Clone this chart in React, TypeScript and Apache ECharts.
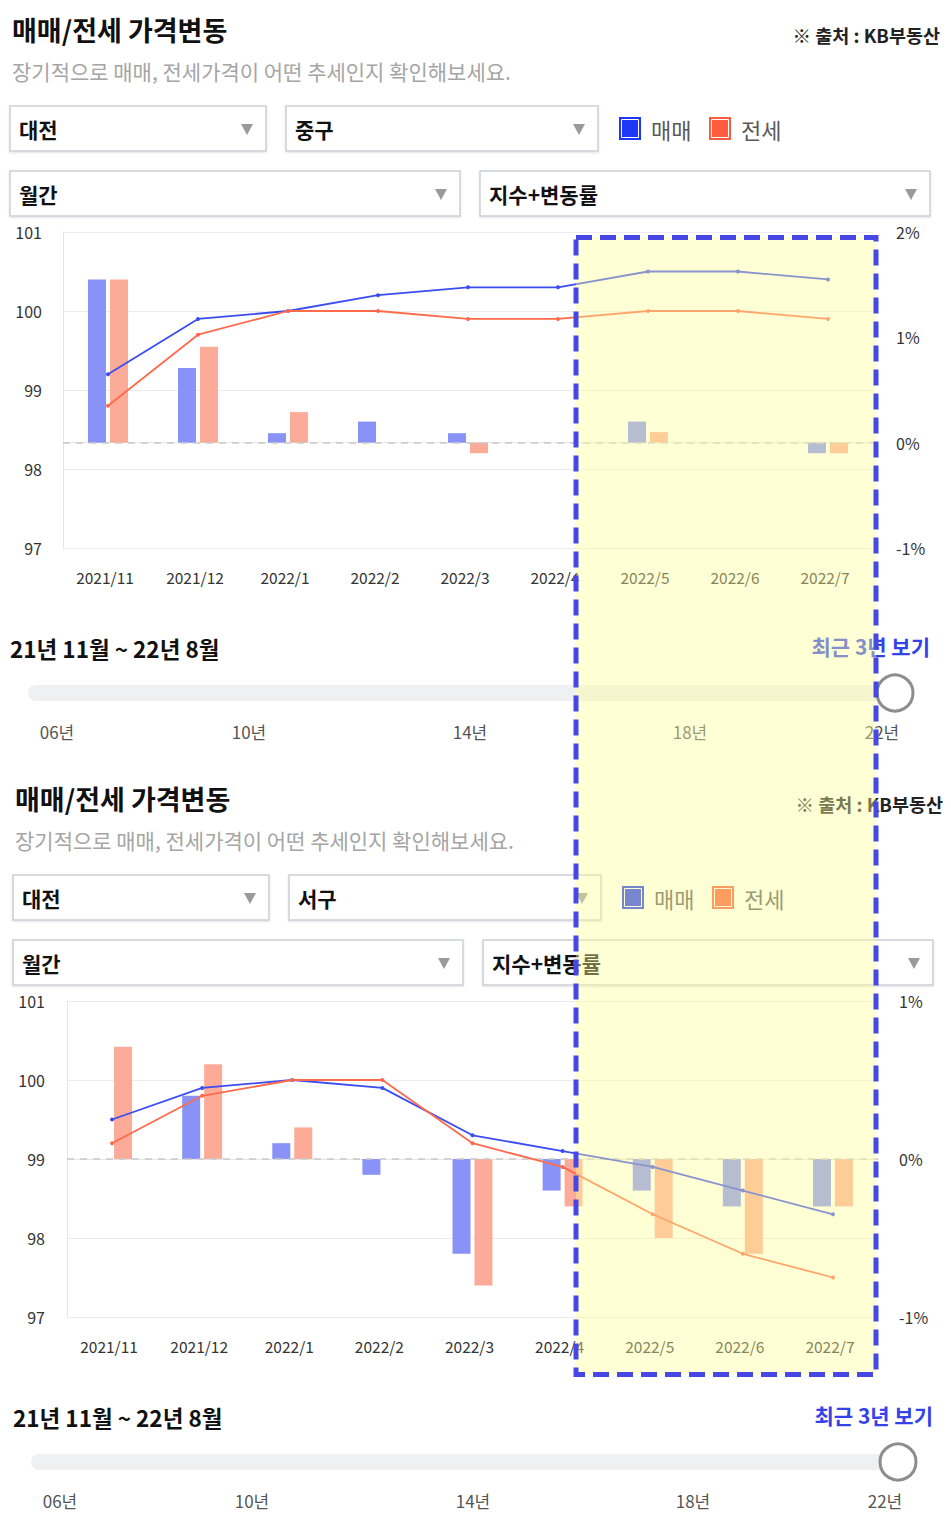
import React, { useEffect, useRef } from "react";
import * as echarts from "echarts";

// ---------- data ----------
const categories = ["2021/11", "2021/12", "2022/1", "2022/2", "2022/3", "2022/4", "2022/5", "2022/6", "2022/7"];

// 대전 중구
const jungSaleIndex = [99.2, 99.9, 100.0, 100.2, 100.3, 100.3, 100.5, 100.5, 100.4];
const jungJeonseIndex = [98.8, 99.7, 100.0, 100.0, 99.9, 99.9, 100.0, 100.0, 99.9];
const jungSaleRate = [1.55, 0.71, 0.09, 0.2, 0.09, 0, 0.2, 0, -0.1];
const jungJeonseRate = [1.55, 0.91, 0.29, 0, -0.1, 0, 0.1, 0, -0.1];

// 대전 서구
const seoSaleIndex = [99.5, 99.9, 100.0, 99.9, 99.3, 99.1, 98.9, 98.6, 98.3];
const seoJeonseIndex = [99.2, 99.8, 100.0, 100.0, 99.2, 98.9, 98.3, 97.8, 97.5];
const seoSaleRate = [0, 0.4, 0.1, -0.1, -0.6, -0.2, -0.2, -0.3, -0.3];
const seoJeonseRate = [0.71, 0.6, 0.2, 0, -0.8, -0.3, -0.5, -0.6, -0.3];

const yearTicks = ["06년", "10년", "14년", "18년", "22년"];
const legendNames = ["매매", "전세"];

// ---------- styles ----------
const F = "'Noto Sans CJK KR', 'Noto Sans', sans-serif";
const SALE_BAR = "#8892f7";
const JEONSE_BAR = "#fcab98";
const SALE_LINE = "#3b4df2";
const JEONSE_LINE = "#ff6a4b";
const SALE_LEGEND = "#1f36f5";
const JEONSE_LEGEND = "#ff5b3d";

const txt = (x: number, y: number, text: string, font: string, fill: string, align = "left") => ({
  type: "text",
  x,
  y,
  style: { text, font, fill, textAlign: align, textVerticalAlign: "middle" },
});

const box = (x: number, y: number, w: number, h: number, label: string) => [
  {
    type: "rect",
    shape: { x, y, width: w, height: h },
    style: { fill: "#fff", stroke: "#cdd0d6", lineWidth: 1.5, shadowBlur: 2, shadowOffsetY: 1, shadowColor: "rgba(0,0,0,0.12)" },
  },
  txt(x + 9, y + 23, label, `bold 21px ${F}`, "#111"),
  {
    type: "polygon",
    shape: { points: [[x + w - 25, y + 18], [x + w - 13, y + 18], [x + w - 19, y + 29]] },
    style: { fill: "#9a9a9a" },
  },
];

const legendIcon = (x: number, y: number, color: string) => [
  { type: "rect", shape: { x, y, width: 22, height: 23 }, style: { fill: color } },
  { type: "rect", shape: { x: x + 2.5, y: y + 2.5, width: 17, height: 18 }, style: { fill: "none", stroke: "#fff", lineWidth: 1 } },
];

function panelGraphics(dx: number, dy: number, district: string) {
  const els: any[] = [];
  els.push(txt(12 + dx, 29 + dy, "매매/전세 가격변동", `bold 27px ${F}`, "#111"));
  els.push(txt(940 + dx, 35 + dy, "※ 출처 : KB부동산", `bold 18.5px ${F}`, "#222", "right"));
  els.push(txt(12 + dx, 71 + dy, "장기적으로 매매, 전세가격이 어떤 추세인지 확인해보세요.", `21px ${F}`, "#a5a5a5"));
  els.push(...box(10 + dx, 106 + dy, 256, 45, "대전"));
  els.push(...box(286 + dx, 106 + dy, 312, 45, district));
  els.push(...legendIcon(619 + dx, 117 + dy, SALE_LEGEND));
  els.push(txt(651 + dx, 129 + dy, legendNames[0], `22px ${F}`, "#5a5a5a"));
  els.push(...legendIcon(709 + dx, 117 + dy, JEONSE_LEGEND));
  els.push(txt(741 + dx, 129 + dy, legendNames[1], `22px ${F}`, "#5a5a5a"));
  els.push(...box(10 + dx, 171 + dy, 450, 45, "월간"));
  els.push(...box(480 + dx, 171 + dy, 450, 45, "지수+변동률"));
  els.push(txt(10 + dx, 648 + dy, "21년 11월 ~ 22년 8월", `bold 22.5px ${F}`, "#111"));
  els.push(txt(930 + dx, 646 + dy, "최근 3년 보기", `bold 21px ${F}`, "#3343e8", "right"));
  els.push({
    type: "rect",
    shape: { x: 28 + dx, y: 685 + dy, width: 867, height: 16, r: 8 },
    style: { fill: "#eef0f2" },
  });
  els.push({
    type: "circle",
    shape: { cx: 895 + dx, cy: 693 + dy, r: 18 },
    style: { fill: "#fff", stroke: "#8d8d8d", lineWidth: 3 },
  });
  const xs = [57, 249, 470, 690, 882];
  yearTicks.forEach((t, i) => els.push(txt(xs[i] + dx, 731 + dy, t, `17px ${F}`, "#555", "center")));
  return els;
}

const zeroLine = {
  silent: true,
  symbol: ["none", "none"],
  label: { show: false },
  lineStyle: { color: "#c9c9c9", type: [7, 6], width: 1.5 },
  data: [{ yAxis: 0 }],
};

function panelSeries(xi: number, yl: number, yr: number, saleRate: number[], jeonseRate: number[], saleIdx: number[], jeonseIdx: number[]) {
  return [
    {
      name: "매매",
      type: "bar",
      xAxisIndex: xi,
      yAxisIndex: yr,
      data: saleRate,
      barWidth: 18,
      barGap: "22%",
      itemStyle: { color: SALE_BAR },
      markLine: zeroLine,
      z: 2,
    },
    {
      name: "전세",
      type: "bar",
      xAxisIndex: xi,
      yAxisIndex: yr,
      data: jeonseRate,
      barWidth: 18,
      barGap: "22%",
      itemStyle: { color: JEONSE_BAR },
      z: 2,
    },
    {
      name: "매매 지수",
      type: "line",
      xAxisIndex: xi,
      yAxisIndex: yl,
      data: saleIdx,
      symbol: "circle",
      symbolSize: 4,
      lineStyle: { color: SALE_LINE, width: 1.8 },
      itemStyle: { color: SALE_LINE },
      z: 5,
    },
    {
      name: "전세 지수",
      type: "line",
      xAxisIndex: xi,
      yAxisIndex: yl,
      data: jeonseIdx,
      symbol: "circle",
      symbolSize: 4,
      lineStyle: { color: JEONSE_LINE, width: 1.8 },
      itemStyle: { color: JEONSE_LINE },
      z: 5,
    },
  ];
}

const axisFont = { fontFamily: F, fontSize: 16, color: "#333" };

function xAxisFor(gi: number) {
  return {
    type: "category",
    gridIndex: gi,
    data: categories,
    boundaryGap: true,
    axisLine: { show: true, lineStyle: { color: "#e6e6e6" } },
    axisTick: { show: false },
    axisLabel: { ...axisFont, fontSize: 15.5, margin: 21, padding: [0, 6, 0, 0] },
  };
}

function leftAxis(gi: number, margin: number) {
  return {
    type: "value",
    gridIndex: gi,
    min: 97,
    max: 101,
    interval: 1,
    axisLine: { show: true, lineStyle: { color: "#e6e6e6" } },
    axisTick: { show: false },
    splitLine: { show: true, lineStyle: { color: "#ececec", width: 1 } },
    axisLabel: { ...axisFont, margin },
  };
}

function rightAxis(gi: number, max: number, margin: number) {
  return {
    type: "value",
    gridIndex: gi,
    position: "right",
    min: -1,
    max,
    interval: 1,
    axisLine: { show: false },
    axisTick: { show: false },
    splitLine: { show: false },
    axisLabel: { ...axisFont, margin, formatter: "{value}%" },
  };
}

export default function App() {
  const ref = useRef<HTMLDivElement>(null);
  useEffect(() => {
    if (!ref.current) return;
    const chart = echarts.init(ref.current, null, { renderer: "svg" });
    const option: any = {
      animation: false,
      backgroundColor: "#fff",
      textStyle: { fontFamily: F },
      grid: [
        { left: 63, top: 232, width: 810, height: 316 },
        { left: 67, top: 1001, width: 811, height: 316 },
      ],
      xAxis: [xAxisFor(0), xAxisFor(1)],
      yAxis: [leftAxis(0, 21), rightAxis(0, 2, 23), leftAxis(1, 22), rightAxis(1, 1, 21)],
      series: [
        ...panelSeries(0, 0, 1, jungSaleRate, jungJeonseRate, jungSaleIndex, jungJeonseIndex),
        ...panelSeries(1, 2, 3, seoSaleRate, seoJeonseRate, seoSaleIndex, seoJeonseIndex),
      ],
      graphic: {
        elements: [
          ...panelGraphics(0, 0, "중구"),
          ...panelGraphics(3, 769, "서구"),
          {
            type: "rect",
            z: 100,
            silent: true,
            shape: { x: 576, y: 237.5, width: 300, height: 1137 },
            style: {
              fill: "rgba(255,255,150,0.4)",
              stroke: "#4747e6",
              lineWidth: 5,
              lineDash: [16, 8],
            },
          },
        ],
      },
    };
    chart.setOption(option);
    return () => chart.dispose();
  }, []);
  return <div ref={ref} style={{ position: "absolute", left: 0, top: 0, width: 951, height: 1533 }} />;
}
